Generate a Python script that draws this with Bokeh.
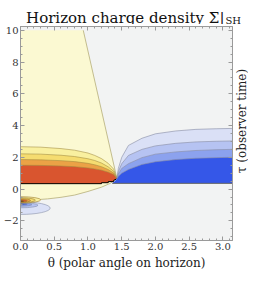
import math
from bokeh.plotting import figure
from bokeh.layouts import column, row
from bokeh.models import (Range1d, SingleIntervalTicker, LinearAxis, PrintfTickFormatter,
                          CustomJSTickFormatter)
from bokeh.core.properties import value
from bokeh.embed import file_html
from bokeh.resources import INLINE

PI = math.pi

# ---- data ----
warm_theta = [0.0, 0.3, 0.6, 0.8, 1.0, 1.1, 1.2, 1.3, 1.38, 1.43]
warm_L1 = [2.67, 2.64, 2.55, 2.45, 2.27, 2.12, 1.92, 1.62, 1.26, 0.65]
warm_L2 = [2.22, 2.20, 2.13, 2.05, 1.91, 1.80, 1.64, 1.40, 1.12, 0.65]
warm_L3 = [1.86, 1.84, 1.79, 1.73, 1.62, 1.53, 1.41, 1.23, 1.01, 0.65]
warm_L4 = [1.50, 1.49, 1.45, 1.41, 1.33, 1.27, 1.19, 1.06, 0.91, 0.65]
red_bottom_theta = [0.0, 1.2, 1.2, 1.3, 1.3, 1.38, 1.38, 1.43]
red_bottom_tau = [0.34, 0.34, 0.40, 0.40, 0.47, 0.47, 0.55, 0.65]

blue_theta = [1.43, 1.45, 1.5, 1.6, 1.8, 2.0, 2.3, 2.6, 2.9, PI]
blue_B1 = [0.65, 1.30, 2.00, 2.75, 3.20, 3.48, 3.66, 3.76, 3.80, 3.82]
blue_B2 = [0.65, 1.10, 1.60, 2.12, 2.50, 2.72, 2.88, 2.97, 3.01, 3.03]
blue_B3 = [0.65, 0.95, 1.30, 1.60, 1.98, 2.20, 2.34, 2.43, 2.48, 2.50]
blue_B4 = [0.65, 0.80, 1.00, 1.24, 1.55, 1.72, 1.86, 1.94, 1.98, 2.00]
blue_bottom_theta = [PI, 1.36, 1.40]
blue_bottom_tau = [0.36, 0.36, 0.50]

pale_edge_theta = [0.93, 1.43]
pale_edge_tau = [10.0, 0.65]
pale_low_theta = [1.43, 1.33, 1.2, 1.0, 0.8, 0.6, 0.4, 0.2, 0.0]
pale_low_tau = [0.65, 0.36, 0.12, -0.15, -0.38, -0.52, -0.62, -0.68, -0.70]

blob_blue_tau = [-1.20, -1.02, -0.98, -0.95]
blob_blue_w = [0.44, 0.26, 0.17, 0.10]
blob_blue_h = [0.40, 0.16, 0.10, 0.06]
blob_warm_tau = [-0.68, -0.70, -0.72, -0.74, -0.76]
blob_warm_w = [0.30, 0.22, 0.15, 0.10, 0.05]
blob_warm_h = [0.20, 0.15, 0.11, 0.08, 0.04]

title_main = "Horizon charge density Σ|"
title_sub = "SH"
x_label = "θ (polar angle on horizon)"
y_label = "τ (observer time)"

warm_colors = ["#f9f0a0", "#f5dc70", "#eba246", "#d9552f"]
blob_warm_colors = ["#f9f0a0", "#f5dc70", "#eba246", "#d9552f", "#3a1a10"]
blue_colors = ["#dae0f6", "#b6c3f2", "#8ca2ee", "#3557e8"]
pale_color = "#fbf9d2"
zero_color = "#f2f3f3"
serif = "DejaVu Serif"

W = 248
TH = 24
MW = 234
MH = 272 - TH
BOT = 31


def blank(w, h):
    f = figure(width=w, height=h, x_range=Range1d(0, w), y_range=Range1d(0, h),
               output_backend="svg", toolbar_location=None, min_border=0,
               x_axis_location=None, y_axis_location=None, title=None)
    f.outline_line_color = None
    f.xgrid.visible = False
    f.ygrid.visible = False
    f.background_fill_color = None
    f.border_fill_color = None
    return f


# ---- title strip ----
t = blank(W, TH)
t.text(x=[224], y=[7], text=[title_main], text_align="right", text_baseline="alphabetic",
       text_font=value(serif), text_font_size="15px", text_color="#111111")
t.text(x=[225], y=[4], text=[title_sub], text_align="left", text_baseline="alphabetic",
       text_font=value(serif), text_font_size="10px", text_color="#111111")

# ---- right label strip ----
r = blank(W - MW, MH)
r.text(x=[7.5], y=[MH - (2 + (MH - BOT)) / 2], text=[y_label], angle=PI / 2,
       text_align="center", text_baseline="middle",
       text_font=value(serif), text_font_size="12px", text_color="#222222")

# ---- main plot ----
p = figure(width=MW, height=MH, x_range=Range1d(0, PI), y_range=Range1d(-3.24, 10.24),
           output_backend="svg", toolbar_location=None, title=None,
           min_border_left=13, min_border_right=2, min_border_top=2, min_border_bottom=BOT)
p.background_fill_color = zero_color
p.border_fill_color = None
p.outline_line_color = "#9a9a9a"
p.xgrid.visible = False
p.ygrid.visible = False

px = [0.0] + pale_edge_theta + pale_low_theta[1:] + [0.0]
py = [10.0] + pale_edge_tau + pale_low_tau[1:] + [10.0]
p.patch(px, py, fill_color=pale_color, line_color=None)
p.line(pale_edge_theta, pale_edge_tau, line_color="#b5ad78", line_width=0.8)
p.line(pale_low_theta, pale_low_tau, line_color="#b5ad78", line_width=0.8)

for tc, w, h, c in zip(blob_blue_tau, blob_blue_w, blob_blue_h, blue_colors):
    p.ellipse(x=[0.0], y=[tc], width=[2 * w], height=[2 * h], fill_color=c,
              line_color="#8890aa", line_width=0.6)
for tc, w, h, c in zip(blob_warm_tau, blob_warm_w, blob_warm_h, blob_warm_colors):
    p.ellipse(x=[0.0], y=[tc], width=[2 * w], height=[2 * h], fill_color=c,
              line_color="#9a7a30", line_width=0.6)

rb_x = list(reversed(red_bottom_theta))
rb_y = list(reversed(red_bottom_tau))
for L, c in zip([warm_L1, warm_L2, warm_L3, warm_L4], warm_colors):
    p.patch(warm_theta + rb_x, L + rb_y, fill_color=c, line_color=None)
    p.line(warm_theta, L, line_color="#a08a40", line_width=0.7, line_alpha=0.8)
p.line(red_bottom_theta, red_bottom_tau, line_color="black", line_width=1.0)

for B, c in zip([blue_B1, blue_B2, blue_B3, blue_B4], blue_colors):
    p.patch(blue_theta + blue_bottom_theta, B + blue_bottom_tau, fill_color=c, line_color=None)
    p.line(blue_theta, B, line_color="#8a90a8", line_width=0.7, line_alpha=0.9)
p.line(blue_bottom_theta[:2], blue_bottom_tau[:2], line_color="#666666", line_width=1.0)

bottom = p.below[0]
left = p.left[0]
bottom.ticker = SingleIntervalTicker(interval=0.5, num_minor_ticks=5)
left.ticker = SingleIntervalTicker(interval=2, num_minor_ticks=4)
bottom.formatter = PrintfTickFormatter(format="%.1f")
top = LinearAxis(ticker=SingleIntervalTicker(interval=0.5, num_minor_ticks=5),
                 formatter=CustomJSTickFormatter(code="return ''"))
right = LinearAxis(ticker=SingleIntervalTicker(interval=2, num_minor_ticks=4),
                   formatter=CustomJSTickFormatter(code="return ''"))
p.add_layout(top, "above")
p.add_layout(right, "right")
for ax in [bottom, left, top, right]:
    ax.axis_line_color = "#9a9a9a"
    ax.major_tick_line_color = "#9a9a9a"
    ax.minor_tick_line_color = "#9a9a9a"
    ax.major_tick_in = 4
    ax.major_tick_out = 0
    ax.minor_tick_in = 2
    ax.minor_tick_out = 0
    ax.major_label_text_font = serif
    ax.major_label_text_font_size = "10px"
    ax.major_label_text_color = "#333333"
    ax.major_label_standoff = 2
for ax in [top, right]:
    ax.major_label_standoff = 0

bottom.axis_label = x_label
bottom.axis_label_text_font = serif
bottom.axis_label_text_font_size = "12px"
bottom.axis_label_text_font_style = "normal"
bottom.axis_label_text_color = "#222222"
bottom.axis_label_standoff = 3

layout = column(t, row(p, r, spacing=0), spacing=0)
open("out.html", "w").write(file_html(layout, INLINE))
